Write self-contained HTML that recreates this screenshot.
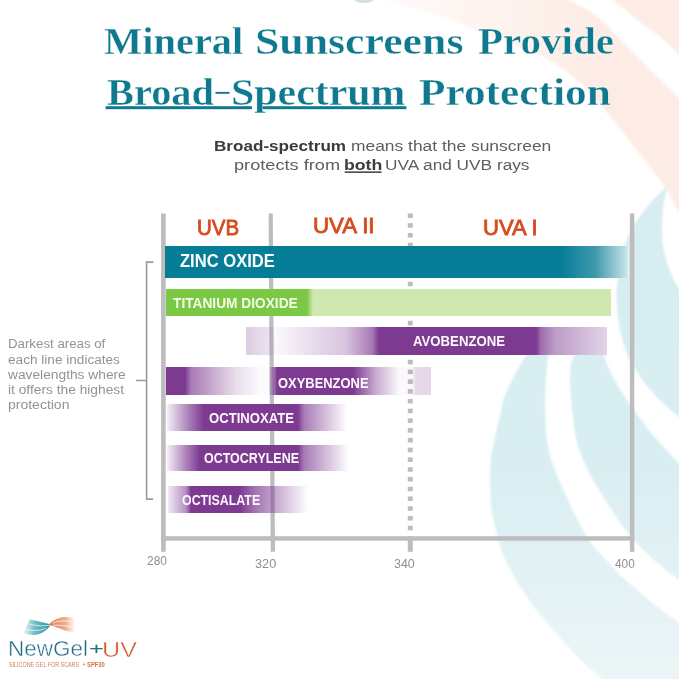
<!DOCTYPE html>
<html><head><meta charset="utf-8">
<style>
html,body{margin:0;padding:0;background:#fff;}
#c{position:relative;width:679px;height:679px;overflow:hidden;background:#fff;font-family:"Liberation Sans",sans-serif;}
.a{position:absolute;white-space:nowrap;line-height:1;transform-origin:0 0;}
</style></head><body>
<div id="c">
<svg class="a" style="left:0;top:0" width="679" height="679" viewBox="0 0 679 679">
<defs>
<linearGradient id="pg" x1="385" y1="0" x2="600" y2="0" gradientUnits="userSpaceOnUse">
<stop offset="0" stop-color="#fdece5" stop-opacity="0.25"/><stop offset="1" stop-color="#fdece5"/></linearGradient>
<linearGradient id="bg" x1="0" y1="190" x2="0" y2="679" gradientUnits="userSpaceOnUse">
<stop offset="0" stop-color="#d6edf1"/><stop offset="0.55" stop-color="#d9eef2"/><stop offset="1" stop-color="#ebf5f7"/></linearGradient>
<filter id="soft" x="-5%" y="-5%" width="110%" height="110%"><feGaussianBlur stdDeviation="1"/></filter>
</defs>
<g filter="url(#soft)">
<path d="M372.0,-10.0 L385.0,0.0 L385.0,0.0 C394.2,2.7 425.0,11.0 440.0,16.0 C455.0,21.0 463.2,25.3 475.0,30.0 C486.8,34.7 498.8,39.2 511.0,44.0 C523.2,48.8 537.0,53.0 548.0,59.0 C559.0,65.0 568.3,72.5 577.0,80.0 C585.7,87.5 593.2,96.3 600.0,104.0 C606.8,111.7 612.2,118.7 618.0,126.0 C623.8,133.3 629.7,141.2 635.0,148.0 C640.3,154.8 645.5,161.2 650.0,167.0 C654.5,172.8 658.3,177.7 662.0,183.0 C665.7,188.3 669.2,193.8 672.0,199.0 C674.8,204.2 676.0,207.2 679.0,214.0 C682.0,220.8 688.2,235.7 690.0,240.0 L690.0,240.0 L690.0,108.0 L690.0,108.0 C688.2,106.3 684.0,102.7 679.0,98.0 C674.0,93.3 666.7,86.3 660.3,80.0 C653.9,73.7 647.0,66.7 640.4,60.0 C633.8,53.3 626.2,46.0 620.5,40.0 C614.8,34.0 611.4,29.0 606.0,24.0 C600.6,19.0 594.4,14.0 588.0,10.0 C581.6,6.0 571.0,1.7 567.6,0.0 L567.6,0.0 L558.0,-10.0 Z" fill="url(#pg)"/>
<path d="M600.0,-10.0 L612.7,0.0 L612.7,0.0 C616.9,3.3 630.9,14.7 637.7,20.0 C644.5,25.3 648.4,27.8 653.7,32.0 C659.0,36.2 665.4,41.2 669.6,45.0 C673.8,48.8 675.6,51.0 679.0,54.5 C682.4,58.0 688.2,64.1 690.0,66.0 L690.0,66.0 L690.0,-10.0 Z" fill="#fdece5"/>
<path d="M552.0,328.0 C549.2,330.8 540.2,339.0 535.0,345.0 C529.8,351.0 525.8,355.7 520.8,364.0 C515.9,372.3 508.9,385.7 505.3,395.0 C501.7,404.3 501.2,410.8 499.0,420.0 C496.9,429.2 493.7,441.7 492.2,450.0 C490.7,458.3 490.4,461.7 490.2,470.0 C489.9,478.3 490.1,491.7 490.7,500.0 C491.2,508.3 491.4,510.8 493.5,520.0 C495.6,529.2 499.0,544.2 503.3,555.0 C507.6,565.8 513.7,575.8 519.2,585.0 C524.8,594.2 529.3,600.8 536.4,610.0 C543.6,619.2 554.8,631.7 562.2,640.0 C569.7,648.3 574.3,653.5 581.0,660.0 C587.7,666.5 595.0,673.2 602.4,679.0 C609.7,684.8 621.2,692.3 624.9,695.0 L624.9,695.0 L690.0,695.0 L690.0,636.0 L701.4,636.0 C697.8,633.8 686.4,627.3 679.8,623.0 C673.2,618.7 669.8,616.3 661.7,610.0 C653.6,603.7 639.2,592.0 631.1,585.0 C623.0,578.0 618.1,572.7 613.1,567.7 C608.2,562.7 605.0,559.2 601.3,555.0 C597.6,550.8 594.7,548.5 590.8,542.7 C586.9,536.9 581.5,527.1 577.7,520.0 C573.9,512.9 570.5,505.5 567.9,500.0 C565.4,494.5 564.9,493.1 562.3,487.0 C559.7,480.9 555.1,471.4 552.5,463.6 C550.0,455.8 548.1,447.3 546.9,440.0 C545.8,432.7 545.8,427.5 545.5,420.0 C545.2,412.5 545.0,404.3 545.3,395.0 C545.6,385.7 546.2,375.2 547.3,364.0 C548.4,352.8 551.2,334.0 552.0,328.0 Z" fill="url(#bg)"/>
<path d="M598.0,329.0 C595.3,331.7 586.5,339.2 582.0,345.0 C577.5,350.8 573.0,355.7 571.1,364.0 C569.2,372.3 570.3,385.7 570.7,395.0 C571.1,404.3 572.4,412.5 573.4,420.0 C574.3,427.5 574.7,433.5 576.3,440.0 C577.8,446.5 579.9,452.1 582.7,458.8 C585.5,465.5 589.2,473.1 592.9,480.0 C596.7,486.9 601.1,493.3 605.3,500.0 C609.5,506.7 613.5,513.3 618.3,520.0 C623.1,526.7 627.1,532.5 634.0,540.0 C640.9,547.5 652.1,558.3 659.7,565.0 C667.3,571.7 673.7,575.8 679.5,580.0 C685.3,584.2 691.9,588.3 694.4,590.0 L694.4,590.0 L690.0,474.0 L690.5,474.0 C688.0,471.7 680.4,464.8 675.7,460.0 C670.9,455.2 666.5,450.3 662.0,445.3 C657.5,440.3 653.2,435.6 648.7,430.0 C644.2,424.4 638.3,416.3 634.9,411.6 C631.5,406.9 631.1,406.4 628.2,402.0 C625.3,397.6 621.2,391.3 617.6,385.0 C614.0,378.7 609.3,370.7 606.7,364.0 C604.1,357.3 603.4,350.8 602.0,345.0 C600.6,339.2 598.7,331.7 598.0,329.0 Z" fill="url(#bg)"/>
<path d="M666.1,187.0 C663.8,189.3 657.2,195.5 652.7,200.6 C648.2,205.7 642.7,212.4 638.9,217.8 C635.1,223.2 632.8,227.0 630.0,233.0 C627.1,239.0 624.1,245.4 622.0,254.0 C619.9,262.6 618.1,277.1 617.2,284.8 C616.4,292.5 616.1,292.5 616.6,300.0 C617.0,307.5 618.1,320.6 620.0,330.0 C622.0,339.4 625.6,350.3 628.1,356.6 C630.6,362.9 632.4,364.1 634.8,368.0 C637.2,371.9 639.8,376.3 642.4,380.0 C645.1,383.7 647.6,386.7 650.5,390.0 C653.5,393.3 655.2,395.5 659.9,400.0 C664.6,404.5 673.1,412.3 678.8,417.0 C684.5,421.7 691.6,426.2 694.2,428.0 L694.2,428.0 L690.0,305.0 L690.0,305.0 C688.2,302.3 681.9,293.7 679.0,289.0 C676.1,284.3 675.0,282.5 672.7,277.0 C670.4,271.5 666.8,263.3 665.0,256.0 C663.2,248.7 662.3,241.0 662.0,233.0 C661.7,225.0 662.2,215.7 663.0,208.0 C663.8,200.3 666.3,190.5 667.0,187.0 Z" fill="url(#bg)"/>
</g>
<ellipse cx="364" cy="0" rx="9" ry="3" fill="#d3e0e0"/>
</svg>
<svg class="a" style="left:0;top:0" width="679" height="679" viewBox="0 0 679 679">
<path d="M153.3,262.1 L146.6,262.1 L146.6,499.1 L153,499.1 M136,380.5 L146.6,380.5" fill="none" stroke="#9a9a9a" stroke-width="1.6"/>
<rect x="105.6" y="106.2" width="146.4" height="3.0" fill="#0f798f"/><rect x="262" y="106.2" width="144.4" height="3.0" fill="#0f798f"/><rect x="215.5" y="91.9" width="14" height="1.9" fill="#0f798f"/>
<rect x="344.7" y="171.4" width="36.8" height="1.5" fill="#3d3d3d"/>
<g fill="#bdbdbd">
<rect x="161.1" y="213.5" width="4.6" height="338.3"/>
<polygon points="268.6,213.5 272.8,213.5 275,551.8 270.7,551.8"/>
<rect x="629.9" y="213.5" width="4.4" height="338.3"/>
<rect x="161.1" y="536.2" width="473.2" height="4.5"/>
<rect x="407.8" y="536.2" width="5" height="15.6"/>
<rect x="407.8" y="213.40" width="5" height="4.6"/><rect x="407.8" y="223.16" width="5" height="4.6"/><rect x="407.8" y="232.92" width="5" height="4.6"/><rect x="407.8" y="242.68" width="5" height="4.6"/><rect x="407.8" y="252.44" width="5" height="4.6"/><rect x="407.8" y="262.20" width="5" height="4.6"/><rect x="407.8" y="271.96" width="5" height="4.6"/><rect x="407.8" y="281.72" width="5" height="4.6"/><rect x="407.8" y="291.48" width="5" height="4.6"/><rect x="407.8" y="301.24" width="5" height="4.6"/><rect x="407.8" y="311.00" width="5" height="4.6"/><rect x="407.8" y="320.76" width="5" height="4.6"/><rect x="407.8" y="330.52" width="5" height="4.6"/><rect x="407.8" y="340.28" width="5" height="4.6"/><rect x="407.8" y="350.04" width="5" height="4.6"/><rect x="407.8" y="359.80" width="5" height="4.6"/><rect x="407.8" y="369.56" width="5" height="4.6"/><rect x="407.8" y="379.32" width="5" height="4.6"/><rect x="407.8" y="389.08" width="5" height="4.6"/><rect x="407.8" y="398.84" width="5" height="4.6"/><rect x="407.8" y="408.60" width="5" height="4.6"/><rect x="407.8" y="418.36" width="5" height="4.6"/><rect x="407.8" y="428.12" width="5" height="4.6"/><rect x="407.8" y="437.88" width="5" height="4.6"/><rect x="407.8" y="447.64" width="5" height="4.6"/><rect x="407.8" y="457.40" width="5" height="4.6"/><rect x="407.8" y="467.16" width="5" height="4.6"/><rect x="407.8" y="476.92" width="5" height="4.6"/><rect x="407.8" y="486.68" width="5" height="4.6"/><rect x="407.8" y="496.44" width="5" height="4.6"/><rect x="407.8" y="506.20" width="5" height="4.6"/><rect x="407.8" y="515.96" width="5" height="4.6"/><rect x="407.8" y="525.72" width="5" height="4.6"/>
</g>
</svg>
<div class="a" style="left:165.4px;top:246.3px;width:461.6px;height:31.5px;background:linear-gradient(90deg,#067d96 0,#067d96 396px,#3f98ac 430px,#c5e2e9 461.6px);"></div>
<div class="a" style="left:165.5px;top:289.3px;width:445.2px;height:26.8px;background:linear-gradient(90deg,#7ac843 0,#7ac843 141px,#cfe8b0 147px,#cfe8b0 100%);"></div>
<div class="a" style="left:246.3px;top:326.8px;width:360.4px;height:28px;background:linear-gradient(90deg,rgba(125,58,145,.26) 0,rgba(125,58,145,.15) 23px,rgba(125,58,145,.03) 29px,rgba(125,58,145,.3) 100px,rgba(125,58,145,.67) 126px,rgba(125,58,145,1) 133px,rgba(125,58,145,1) 290px,#9f6dae 295px,#bd9bc7 309px,#e2d4e7 360.4px);"></div>
<div class="a" style="left:165.8px;top:367.2px;width:264.8px;height:27.4px;background:linear-gradient(90deg,rgba(125,58,145,1) 0,rgba(125,58,145,1) 19px,rgba(125,58,145,0.67) 25px,rgba(125,58,145,0.17) 70px,rgba(125,58,145,0.02) 95px,rgba(125,58,145,0.02) 103px,rgba(125,58,145,0.6) 107px,rgba(125,58,145,1) 111px,rgba(125,58,145,1) 187px,rgba(125,58,145,0.42) 210px,rgba(125,58,145,0.03) 233px,rgba(125,58,145,0.03) 246px,rgba(125,58,145,0.2) 250px,rgba(125,58,145,0.2) 100%);"></div>
<div class="a" style="left:167.4px;top:403.9px;width:180px;height:26.7px;background:linear-gradient(90deg,rgba(125,58,145,0.08) 0,rgba(125,58,145,0.66) 22px,rgba(125,58,145,1) 37px,rgba(125,58,145,1) 131px,rgba(125,58,145,0.67) 137px,rgba(125,58,145,0) 180px);"></div>
<div class="a" style="left:167.4px;top:444.5px;width:182px;height:26.5px;background:linear-gradient(90deg,rgba(125,58,145,0.08) 0,rgba(125,58,145,0.66) 20px,rgba(125,58,145,1) 33px,rgba(125,58,145,1) 131px,rgba(125,58,145,0.67) 137px,rgba(125,58,145,0) 182px);"></div>
<div class="a" style="left:168.2px;top:485.8px;width:140px;height:27.1px;background:linear-gradient(90deg,rgba(125,58,145,0.11) 0,rgba(125,58,145,0.57) 18px,rgba(125,58,145,1) 23px,rgba(125,58,145,1) 72px,rgba(125,58,145,0.72) 86px,rgba(125,58,145,0) 140px);"></div>
<div class="a" id="t1a" style="left:103.50px;top:22.91px;font-family:'Liberation Serif',serif;font-size:37px;font-weight:bold;color:#0f798f;transform:scaleX(1.0937);-webkit-text-stroke:0.35px #fff;">Mineral</div>
<div class="a" id="t1b" style="left:255.33px;top:22.91px;font-family:'Liberation Serif',serif;font-size:37px;font-weight:bold;color:#0f798f;transform:scaleX(1.1833);-webkit-text-stroke:0.35px #fff;">Sunscreens</div>
<div class="a" id="t1c" style="left:477.70px;top:22.91px;font-family:'Liberation Serif',serif;font-size:37px;font-weight:bold;color:#0f798f;transform:scaleX(1.1090);-webkit-text-stroke:0.35px #fff;">Provide</div>
<div class="a" id="t2a" style="left:107.00px;top:73.51px;font-family:'Liberation Serif',serif;font-size:37px;font-weight:bold;color:#0f798f;transform:scaleX(1.0918);-webkit-text-stroke:0.35px #fff;">Broad</div>
<div class="a" id="t2c" style="left:230.74px;top:73.51px;font-family:'Liberation Serif',serif;font-size:37px;font-weight:bold;color:#0f798f;transform:scaleX(1.1322);-webkit-text-stroke:0.35px #fff;">Spectrum</div>
<div class="a" id="t2b" style="left:419.30px;top:73.51px;font-family:'Liberation Serif',serif;font-size:37px;font-weight:bold;color:#0f798f;transform:scaleX(1.1718);-webkit-text-stroke:0.35px #fff;">Protection</div>
<div class="a" id="s1a" style="left:214.49px;top:137.86px;font-family:'Liberation Sans',sans-serif;font-size:15.4px;font-weight:bold;color:#3a3a3a;transform:scaleX(1.1111);">Broad-spectrum</div>
<div class="a" id="s1b" style="left:350.67px;top:137.86px;font-family:'Liberation Sans',sans-serif;font-size:15.4px;font-weight:normal;color:#5e5e5e;transform:scaleX(1.1309);">means that the sunscreen</div>
<div class="a" id="s2a" style="left:234.32px;top:157.26px;font-family:'Liberation Sans',sans-serif;font-size:15.4px;font-weight:normal;color:#5e5e5e;transform:scaleX(1.1807);">protects from</div>
<div class="a" id="s2b" style="left:343.55px;top:157.26px;font-family:'Liberation Sans',sans-serif;font-size:15.4px;font-weight:bold;color:#3d3d3d;transform:scaleX(1.1500);">both</div>
<div class="a" id="s2c" style="left:385.18px;top:157.26px;font-family:'Liberation Sans',sans-serif;font-size:15.4px;font-weight:normal;color:#5e5e5e;transform:scaleX(1.1211);">UVA and UVB rays</div>
<div class="a" id="nt0" style="left:7.53px;top:337.40px;font-family:'Liberation Sans',sans-serif;font-size:13.7px;font-weight:normal;color:#939393;transform:scaleX(0.9690);">Darkest areas of</div>
<div class="a" id="nt1" style="left:7.60px;top:352.53px;font-family:'Liberation Sans',sans-serif;font-size:13.7px;font-weight:normal;color:#939393;transform:scaleX(0.9938);">each line indicates</div>
<div class="a" id="nt2" style="left:7.80px;top:367.66px;font-family:'Liberation Sans',sans-serif;font-size:13.7px;font-weight:normal;color:#939393;transform:scaleX(1.0051);">wavelengths where</div>
<div class="a" id="nt3" style="left:7.99px;top:382.79px;font-family:'Liberation Sans',sans-serif;font-size:13.7px;font-weight:normal;color:#939393;transform:scaleX(1.0053);">it offers the highest</div>
<div class="a" id="nt4" style="left:7.88px;top:397.92px;font-family:'Liberation Sans',sans-serif;font-size:13.7px;font-weight:normal;color:#939393;transform:scaleX(1.0220);">protection</div>
<div class="a" id="h1" style="left:197.03px;top:216.55px;font-family:'Liberation Sans',sans-serif;font-size:21.2px;font-weight:normal;color:#d64c1e;transform:scaleX(0.9667);-webkit-text-stroke:0.8px #d64c1e;">UVB</div>
<div class="a" id="h2" style="left:313.35px;top:215.25px;font-family:'Liberation Sans',sans-serif;font-size:21.2px;font-weight:normal;color:#d64c1e;transform:scaleX(1.0518);-webkit-text-stroke:0.8px #d64c1e;">UVA II</div>
<div class="a" id="h3" style="left:483.26px;top:216.65px;font-family:'Liberation Sans',sans-serif;font-size:21.2px;font-weight:normal;color:#d64c1e;transform:scaleX(1.0400);-webkit-text-stroke:0.8px #d64c1e;">UVA I</div>
<div class="a" id="l1" style="left:179.70px;top:251.32px;font-family:'Liberation Sans',sans-serif;font-size:19px;font-weight:bold;color:#fbfdfd;transform:scaleX(0.8722);">ZINC OXIDE</div>
<div class="a" id="l2" style="left:173.20px;top:295.36px;font-family:'Liberation Sans',sans-serif;font-size:15.4px;font-weight:bold;color:#f6fbe6;transform:scaleX(0.8914);">TITANIUM DIOXIDE</div>
<div class="a" id="l3" style="left:412.70px;top:333.26px;font-family:'Liberation Sans',sans-serif;font-size:15.4px;font-weight:bold;color:#fdf8fd;transform:scaleX(0.8561);">AVOBENZONE</div>
<div class="a" id="l4" style="left:278.10px;top:374.66px;font-family:'Liberation Sans',sans-serif;font-size:15.4px;font-weight:bold;color:#fdf8fd;transform:scaleX(0.8402);">OXYBENZONE</div>
<div class="a" id="l5" style="left:208.80px;top:409.66px;font-family:'Liberation Sans',sans-serif;font-size:15.4px;font-weight:bold;color:#fdf8fd;transform:scaleX(0.8515);">OCTINOXATE</div>
<div class="a" id="l6" style="left:204.30px;top:450.36px;font-family:'Liberation Sans',sans-serif;font-size:15.4px;font-weight:bold;color:#fdf8fd;transform:scaleX(0.8111);">OCTOCRYLENE</div>
<div class="a" id="l7" style="left:182.10px;top:491.66px;font-family:'Liberation Sans',sans-serif;font-size:15.4px;font-weight:bold;color:#fdf8fd;transform:scaleX(0.8041);">OCTISALATE</div>
<div class="a" id="n1" style="left:147.00px;top:553.80px;font-family:'Liberation Sans',sans-serif;font-size:13px;font-weight:normal;color:#8f8f8f;transform:scaleX(0.9182);">280</div>
<div class="a" id="n2" style="left:255.02px;top:556.80px;font-family:'Liberation Sans',sans-serif;font-size:13px;font-weight:normal;color:#8f8f8f;transform:scaleX(0.9810);">320</div>
<div class="a" id="n3" style="left:394.35px;top:557.30px;font-family:'Liberation Sans',sans-serif;font-size:13px;font-weight:normal;color:#8f8f8f;transform:scaleX(0.9524);">340</div>
<div class="a" id="n4" style="left:614.80px;top:557.30px;font-family:'Liberation Sans',sans-serif;font-size:13px;font-weight:normal;color:#8f8f8f;transform:scaleX(0.9091);">400</div>
<div class="a" id="lg1" style="left:7.72px;top:637.28px;font-family:'Liberation Sans',sans-serif;font-size:22.7px;font-weight:normal;color:#1f6e86;transform:scaleX(0.9910);-webkit-text-stroke:0.45px #fff;">NewGel</div>
<div class="a" id="lg2" style="left:88.50px;top:640.01px;font-family:'Liberation Sans',sans-serif;font-size:17px;font-weight:normal;color:#1f6e86;transform:scaleX(1.5000);">+</div>
<div class="a" id="lg3" style="left:101.59px;top:637.68px;font-family:'Liberation Sans',sans-serif;font-size:22.7px;font-weight:normal;color:#d65a2f;transform:scaleX(1.1067);-webkit-text-stroke:0.45px #fff;">UV</div>
<div class="a" id="lg4" style="left:9.30px;top:661.98px;font-family:'Liberation Sans',sans-serif;font-size:6.4px;font-weight:normal;color:#d47c58;transform:scaleX(0.8422);">SILICONE GEL FOR SCARS</div>
<div class="a" id="lg5" style="left:82.30px;top:661.58px;font-family:'Liberation Sans',sans-serif;font-size:6.4px;font-weight:normal;color:#d47c58;transform:scaleX(1.0000);">+</div>
<div class="a" id="lg6" style="left:87.00px;top:661.81px;font-family:'Liberation Sans',sans-serif;font-size:6.6px;font-weight:bold;color:#d8733f;transform:scaleX(0.8850);">SPF30</div>
<svg class="a" style="left:0;top:0" width="679" height="679" viewBox="0 0 679 679">
<defs>
<linearGradient id="lgt" x1="22" y1="0" x2="51" y2="0" gradientUnits="userSpaceOnUse"><stop offset="0" stop-color="#3ea7b3" stop-opacity="0"/><stop offset="0.45" stop-color="#3ea7b3" stop-opacity="0.75"/><stop offset="1" stop-color="#21909c"/></linearGradient>
<linearGradient id="lgo" x1="49" y1="0" x2="76" y2="0" gradientUnits="userSpaceOnUse"><stop offset="0" stop-color="#e47a4e"/><stop offset="0.6" stop-color="#eb9670" stop-opacity="0.8"/><stop offset="1" stop-color="#f0a888" stop-opacity="0"/></linearGradient>
</defs>
<path d="M30,619.3 C34,620.3 41,622 51,624.5 C48,629 43,633.5 36.3,634.8 C31,635.5 27,634.5 23.5,633 C25.5,628.5 27.5,623.5 30,619.3 Z" fill="url(#lgt)"/>
<path d="M28.5,624 C34,625 42,627 50,625 M25,629.2 C31,630.5 38,631.5 46,628.3" fill="none" stroke="#fff" stroke-opacity="0.8" stroke-width="0.9"/>
<path d="M49,624.3 C52,621 56,618.8 62,617.3 C66,616.6 70,617 74,618 L74,632 C70,632 64,630.5 59,628.3 C55,626.8 52,625.5 49,624.8 Z" fill="url(#lgo)"/>
<path d="M52.5,623.2 C57,621 63,620.3 73,621.7 M53.5,625.3 C59,625 65,625.5 73,627.3" fill="none" stroke="#fff" stroke-opacity="0.8" stroke-width="0.9"/>
</svg>
</div>
</body></html>
